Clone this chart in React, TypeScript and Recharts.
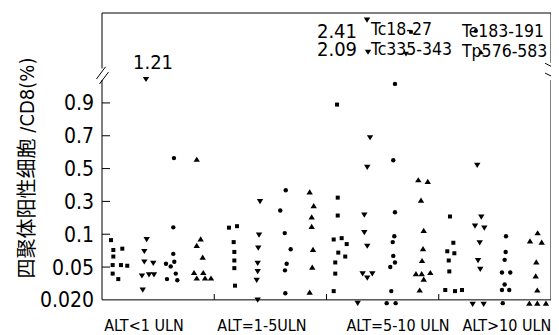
import React from 'react';
import { ScatterChart, Scatter, XAxis, YAxis, ReferenceLine, Legend, Label } from 'recharts';

const FONT = "'DejaVu Sans Condensed', 'DejaVu Sans', 'Noto Sans CJK SC', sans-serif";

// ---------- texts ----------
const categories = ['ALT<1 ULN', 'ALT=1-5ULN', 'ALT=5-10 ULN', 'ALT>10 ULN'];
const yTickValues = [0.02, 0.05, 0.1, 0.3, 0.5, 0.7, 0.9];
const yTickLabels = ['0.020', '0.05', '0.1', '0.3', '0.5', '0.7', '0.9'];
const breakValues = [1.21, 2.09, 2.41];
const yTitle = '四聚体阳性细胞 /CD8(%)';
const seriesNames = ['Tc18-27', 'Tc335-343', 'Te183-191', 'Tp576-583'];

// ---------- data: [x position in group units (jittered), value %] ----------
const tc18_27: [number, number][] = [
  [0.080, 0.091], [0.101, 0.076], [0.181, 0.078], [0.101, 0.066], [0.095, 0.053], [0.169, 0.053], [0.225, 0.052], [0.095, 0.044], [0.145, 0.039],
  [1.131, 0.140], [1.203, 0.149], [1.173, 0.088], [1.179, 0.073], [1.179, 0.060], [1.179, 0.049], [1.185, 0.033],
  [2.094, 0.89], [2.100, 0.323], [2.100, 0.214], [2.064, 0.092], [2.135, 0.094], [2.180, 0.085], [2.105, 0.072], [2.167, 0.066], [2.078, 0.057], [2.078, 0.044], [2.064, 0.028],
  [3.100, 0.208], [3.130, 0.087], [3.076, 0.074], [3.139, 0.071], [3.089, 0.060], [3.094, 0.046], [3.058, 0.029], [3.145, 0.028], [3.207, 0.029],
];
const tc335_343: [number, number][] = [
  [0.392, 1.21], [0.398, 0.092], [0.377, 0.074], [0.377, 0.058], [0.457, 0.056], [0.356, 0.042], [0.419, 0.043], [0.463, 0.043], [0.363, 0.029],
  [1.408, 0.30], [1.399, 0.099], [1.392, 0.079], [1.387, 0.056], [1.387, 0.046], [1.378, 0.038], [1.387, 0.020],
  [2.361, 2.41], [2.370, 2.09], [2.388, 0.689], [2.363, 0.508], [2.337, 0.217], [2.337, 0.111], [2.363, 0.082], [2.322, 0.044], [2.408, 0.044], [2.363, 0.040], [2.278, 0.017],
  [3.343, 0.521], [3.379, 0.206], [3.323, 0.151], [3.406, 0.138], [3.365, 0.087], [3.350, 0.060], [3.370, 0.048], [3.302, 0.016], [3.400, 0.016],
];
const te183_191: [number, number][] = [
  [0.641, 0.564], [0.635, 0.142], [0.635, 0.070], [0.644, 0.058], [0.570, 0.055], [0.612, 0.051], [0.657, 0.044], [0.579, 0.039], [0.671, 0.038],
  [1.637, 0.368], [1.588, 0.245], [1.628, 0.107], [1.681, 0.077], [1.645, 0.055], [1.630, 0.047], [1.633, 0.026],
  [2.610, 1.15], [2.595, 0.551], [2.610, 0.234], [2.604, 0.097], [2.590, 0.088], [2.595, 0.067], [2.610, 0.057], [2.568, 0.050], [2.577, 0.028], [2.536, 0.017], [2.616, 0.017],
  [3.599, 0.097], [3.596, 0.073], [3.587, 0.061], [3.563, 0.045], [3.637, 0.045], [3.587, 0.034], [3.563, 0.029], [3.628, 0.029], [3.570, 0.017],
];
const tp576_583: [number, number][] = [
  [0.844, 0.557], [0.879, 0.093], [0.844, 0.083], [0.897, 0.065], [0.820, 0.045], [0.902, 0.045], [0.844, 0.040], [0.918, 0.040], [0.971, 0.040],
  [1.850, 0.358], [1.886, 0.274], [1.868, 0.206], [1.868, 0.148], [1.880, 0.077], [1.873, 0.050], [1.850, 0.027],
  [2.818, 0.432], [2.902, 0.422], [2.842, 0.308], [2.866, 0.124], [2.860, 0.078], [2.851, 0.060], [2.797, 0.044], [2.848, 0.044], [2.925, 0.045], [2.866, 0.039], [2.830, 0.029],
  [3.881, 0.109], [3.813, 0.090], [3.917, 0.088], [3.869, 0.058], [3.864, 0.042], [3.878, 0.029], [3.807, 0.017], [3.878, 0.017], [3.955, 0.017],
];

// ---------- broken (piecewise) y scale ----------
const SCALE_VALUES = [...yTickValues, ...breakValues];
const SCALE_UNITS = [0, 1, 2, 3, 4, 5, 6, 6.72, 7.55, 8.53];
function toUnit(v: number): number {
  const n = SCALE_VALUES.length;
  if (v <= SCALE_VALUES[0]) {
    const s = (SCALE_UNITS[1] - SCALE_UNITS[0]) / (SCALE_VALUES[1] - SCALE_VALUES[0]);
    return SCALE_UNITS[0] + (v - SCALE_VALUES[0]) * s;
  }
  for (let i = 1; i < n; i++) {
    if (v <= SCALE_VALUES[i]) {
      const t = (v - SCALE_VALUES[i - 1]) / (SCALE_VALUES[i] - SCALE_VALUES[i - 1]);
      return SCALE_UNITS[i - 1] + t * (SCALE_UNITS[i] - SCALE_UNITS[i - 1]);
    }
  }
  return SCALE_UNITS[n - 1];
}
const Y_MIN = -0.4;
const Y_MAX = 8.74;
const yTickUnits = yTickValues.map(toUnit);
const AX0 = toUnit(0.02);

const toRows = (arr: [number, number][]) => arr.map(([x, v]) => ({ x, y: toUnit(v), v }));

// ---------- markers ----------
type Kind = 'square' | 'down' | 'circle' | 'up';
const kinds: Kind[] = ['square', 'down', 'circle', 'up'];
function marker(kind: Kind, cx: number, cy: number, s = 1) {
  if (kind === 'square') return <rect x={cx - 2 * s} y={cy - 2 * s} width={4 * s} height={4 * s} fill="#000" />;
  if (kind === 'circle') return <circle cx={cx} cy={cy} r={2.2 * s} fill="#000" />;
  if (kind === 'down')
    return <polygon points={`${cx - 3.2 * s},${cy - 2.4 * s} ${cx + 3.2 * s},${cy - 2.4 * s} ${cx},${cy + 2.8 * s}`} fill="#000" />;
  return <polygon points={`${cx - 3.2 * s},${cy + 2.6 * s} ${cx + 3.2 * s},${cy + 2.6 * s} ${cx},${cy - 2.6 * s}`} fill="#000" />;
}

const valueLabelOffsets: Record<string, { dx: number; dy: number; anchor: string }> = {
  '1.21': { dx: 7, dy: -10, anchor: 'middle' },
  '2.41': { dx: -10, dy: 18, anchor: 'end' },
  '2.09': { dx: -11, dy: 3.5, anchor: 'end' },
};

const makeShape = (kind: Kind) => (p: any) => {
  const { cx, cy, payload } = p;
  if (cx == null || cy == null) return <g />;
  const key = payload && payload.v > 1 ? payload.v.toFixed(2) : '';
  const off = valueLabelOffsets[key];
  return (
    <g>
      {marker(kind, cx, cy)}
      {off ? (
        <text x={cx + off.dx} y={cy + off.dy} textAnchor={off.anchor as any} fontSize={20} fontFamily={FONT} fill="#000">
          {key}
        </text>
      ) : null}
    </g>
  );
};

// ---------- ticks ----------
const YTick = (props: any) => {
  const { x, y, payload } = props;
  const i = yTickUnits.findIndex((u) => Math.abs(u - payload.value) < 1e-6);
  return (
    <g>
      <text x={x} y={y} dy="0.36em" textAnchor="end" fontSize={21} fontFamily={FONT} fill="#000">
        {yTickLabels[i]}
      </text>
      {i > 0 ? <line x1={x + 8} x2={x + 16} y1={y} y2={y} stroke="#000" /> : null}
    </g>
  );
};

const xLabelCenters = [0.374, 1.425, 2.637, 3.607];
const XTick = (props: any) => {
  const { x, y, index } = props;
  return (
    <text x={x} y={y + 18} textAnchor="middle" fontSize={16} fontFamily={FONT} fill="#000">
      {categories[index]}
    </text>
  );
};

const YTitle = (props: any) => {
  const vb = props.viewBox || { x: 0, y: 5, width: 94, height: 300 };
  const cx = vb.x + 19;
  const cy = vb.y + 155;
  return (
    <text x={cx} y={cy} transform={`rotate(-90 ${cx} ${cy})`} textAnchor="middle" dy="0.36em" fontSize={20} fontFamily={FONT} fill="#000">
      {yTitle}
    </text>
  );
};

// legend layout (px inside legend box)
const legendLayout = [
  { tx: 11, ty: 21.5, mx: 51, my: 19 },
  { tx: 11, ty: 42, mx: 46, my: 41 },
  { tx: 102, ty: 23.5, mx: 115.7, my: 18 },
  { tx: 102, ty: 43.5, mx: 121, my: 39 },
];
const LegendBox = () => (
  <svg width={200} height={52} style={{ display: 'block', overflow: 'visible' }}>
    {seriesNames.map((name, i) => (
      <g key={name}>
        <text x={legendLayout[i].tx} y={legendLayout[i].ty} fontSize={17.5} fontFamily={FONT} fill="#000">
          {name}
        </text>
        {marker(kinds[i], legendLayout[i].mx, legendLayout[i].my, 0.9)}
      </g>
    ))}
  </svg>
);

const seriesData = [tc18_27, tc335_343, te183_191, tp576_583].map(toRows);

const lineProps = { stroke: '#000', strokeWidth: 1, ifOverflow: 'visible' as const };

export default function App() {
  return (
    <ScatterChart width={551} height={327} margin={{ top: 5, right: 8, bottom: 0, left: 0 }}>
      <XAxis
        type="number"
        dataKey="x"
        domain={[0, 4]}
        allowDataOverflow
        ticks={xLabelCenters}
        interval={0}
        axisLine={false}
        tickLine={false}
        tickSize={0}
        tickMargin={0}
        height={22}
        tick={<XTick />}
      />
      <YAxis
        type="number"
        dataKey="y"
        domain={[Y_MIN, Y_MAX]}
        allowDataOverflow
        ticks={yTickUnits}
        interval={0}
        axisLine={false}
        tickLine={false}
        tickSize={0}
        tickMargin={8}
        width={94}
        tick={<YTick />}
      >
        <Label content={<YTitle />} />
      </YAxis>

      {/* frame */}
      <ReferenceLine y={AX0} {...lineProps} />
      <ReferenceLine y={Y_MAX} {...lineProps} />
      <ReferenceLine segment={[{ x: 0, y: AX0 }, { x: 0, y: 6.7 }]} {...lineProps} />
      <ReferenceLine segment={[{ x: 0, y: 7.05 }, { x: 0, y: Y_MAX }]} {...lineProps} />
      <ReferenceLine segment={[{ x: 4, y: AX0 }, { x: 4, y: 6.7 }]} {...lineProps} />
      <ReferenceLine segment={[{ x: 4, y: 7.22 }, { x: 4, y: Y_MAX }]} {...lineProps} />
      {/* axis break marks */}
      <ReferenceLine segment={[{ x: -0.049, y: 6.73 }, { x: 0.031, y: 7.1 }]} {...lineProps} />
      <ReferenceLine segment={[{ x: -0.022, y: 6.58 }, { x: 0.058, y: 6.94 }]} {...lineProps} />
      <ReferenceLine segment={[{ x: 3.947, y: 7.21 }, { x: 4.06, y: 7.01 }]} {...lineProps} />
      <ReferenceLine segment={[{ x: 3.947, y: 6.91 }, { x: 4.06, y: 6.72 }]} {...lineProps} />
      {/* group dividers */}
      {[1, 2, 3].map((g) => (
        <ReferenceLine key={g} segment={[{ x: g, y: AX0 }, { x: g, y: AX0 + 0.18 }]} {...lineProps} />
      ))}

      {seriesData.map((rows, i) => (
        <Scatter key={seriesNames[i]} name={seriesNames[i]} data={rows} isAnimationActive={false} shape={makeShape(kinds[i])} />
      ))}

      <Legend
        layout="horizontal"
        verticalAlign="middle"
        align="center"
        content={<LegendBox />}
        wrapperStyle={{ position: 'absolute', left: 352, top: 5, width: 200, height: 52 }}
      />
    </ScatterChart>
  );
}
